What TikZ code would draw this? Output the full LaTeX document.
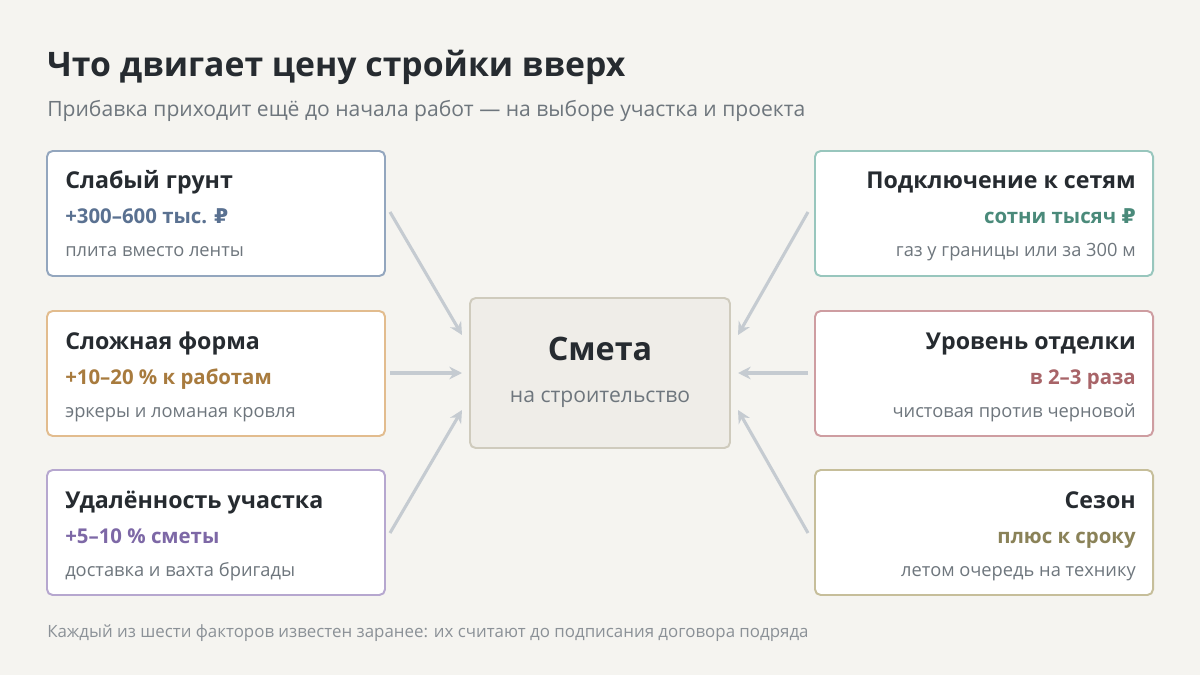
\documentclass[tikz,border=0pt]{standalone}
\usepackage{fontspec}
\setmainfont{Open Sans}
\newfontfamily\rubfont{DejaVu Sans}
\newcommand{\myrub}{{\rubfont ₽}}
\usetikzlibrary{arrows.meta}
\definecolor{bg}{HTML}{F5F4F0}
\definecolor{ink}{HTML}{262B30}
\definecolor{sub}{HTML}{6E767D}
\definecolor{arr}{HTML}{C5CBD1}
\definecolor{cbd}{HTML}{CFCBBD}
\definecolor{cfl}{HTML}{EFEDE8}
\definecolor{bA}{HTML}{93A6BE}\definecolor{vA}{HTML}{5A7191}
\definecolor{bB}{HTML}{E2BC8E}\definecolor{vB}{HTML}{A87B3E}
\definecolor{bC}{HTML}{B6A7CF}\definecolor{vC}{HTML}{7D68A6}
\definecolor{bD}{HTML}{98C6BD}\definecolor{vD}{HTML}{4A8A7A}
\definecolor{bE}{HTML}{CE9DA1}\definecolor{vE}{HTML}{A86468}
\definecolor{bF}{HTML}{C6BE9A}\definecolor{vF}{HTML}{8A8258}
\begin{document}
\begin{tikzpicture}[x=0.025cm,y=-0.025cm,
 box/.style={draw=#1,line width=1.4pt,fill=white,rounded corners=4pt},
 ttl/.style={font=\fontsize{16.5}{20}\selectfont\bfseries,text=ink,inner sep=0},
 val/.style={font=\fontsize{14.5}{18}\selectfont\bfseries,text=#1,inner sep=0},
 dsc/.style={font=\fontsize{13}{16}\selectfont,text=sub,inner sep=0},
 ar/.style={draw=arr,line width=2.2pt,-{Stealth[length=9pt,width=9pt]}}]
\fill[bg] (0,0) rectangle (1200,675);
\node[anchor=base west,inner sep=0,text=ink,font=\fontsize{24}{28}\selectfont\bfseries] (t) at (47,77) {Что двигает цену стройки вверх};
\node[anchor=base west,inner sep=0,text=sub,font=\fontsize{15}{18}\selectfont] (s) at (47,117) {Прибавка приходит ещё до начала работ — на выборе участка и проекта};
\node[anchor=base west,inner sep=0,text=sub!80,font=\fontsize{12}{14}\selectfont] (f) at (47,637) {Каждый из шести факторов известен заранее: их считают до подписания договора подряда};
% center
\draw[draw=cbd,line width=1.4pt,fill=cfl,rounded corners=4pt] (470,298) rectangle (730,448);
\node[inner sep=0,text=ink,font=\fontsize{23}{26}\selectfont\bfseries,anchor=base] (c1) at (600,360) {Смета};
\node[inner sep=0,text=sub,font=\fontsize{15}{18}\selectfont,anchor=base] (c2) at (600,402) {на строительство};
\coordinate (cl1) at (462,335);\coordinate (cl2) at (462,373);\coordinate (cl3) at (462,410);
\coordinate (cr1) at (738,335);\coordinate (cr2) at (738,373);\coordinate (cr3) at (738,410);
% left boxes
\foreach \y/\b/\v/\T/\V/\D/\n in {151/bA/vA/Слабый грунт/+300–600 тыс. \myrub/плита вместо ленты/1,
 311/bB/vB/Сложная форма/+10–20 \% к работам/эркеры и ломаная кровля/2,
 470/bC/vC/Удалённость участка/+5–10 \% сметы/доставка и вахта бригады/3}{
 \draw[box=\b] (47,\y) rectangle (385,\y+125);
 \node[ttl,anchor=base west] (lt\n) at (65,\y+38) {\T};
 \node[val=\v,anchor=base west] (lv\n) at (65,\y+73) {\V};
 \node[dsc,anchor=base west] (ld\n) at (65,\y+106) {\D};
}
\foreach \y/\b/\v/\T/\V/\D/\n in {151/bD/vD/Подключение к сетям/сотни тысяч \myrub/газ у границы или за 300 м/1,
 311/bE/vE/Уровень отделки/в 2–3 раза/чистовая против черновой/2,
 470/bF/vF/Сезон/плюс к сроку/летом очередь на технику/3}{
 \draw[box=\b] (815,\y) rectangle (1153,\y+125);
 \node[ttl,anchor=base east] (rt\n) at (1136,\y+38) {\T};
 \node[val=\v,anchor=base east] (rv\n) at (1136,\y+73) {\V};
 \node[dsc,anchor=base east] (rd\n) at (1136,\y+106) {\D};
}
\coordinate (la1) at (390,212);\coordinate (la2) at (390,373);\coordinate (la3) at (390,533);
\coordinate (ra1) at (808,212);\coordinate (ra2) at (808,373);\coordinate (ra3) at (808,533);
\foreach \n in {1,2,3}{\draw[ar] (la\n) -- (cl\n); \draw[ar] (ra\n) -- (cr\n);}
\end{tikzpicture}
\end{document}
